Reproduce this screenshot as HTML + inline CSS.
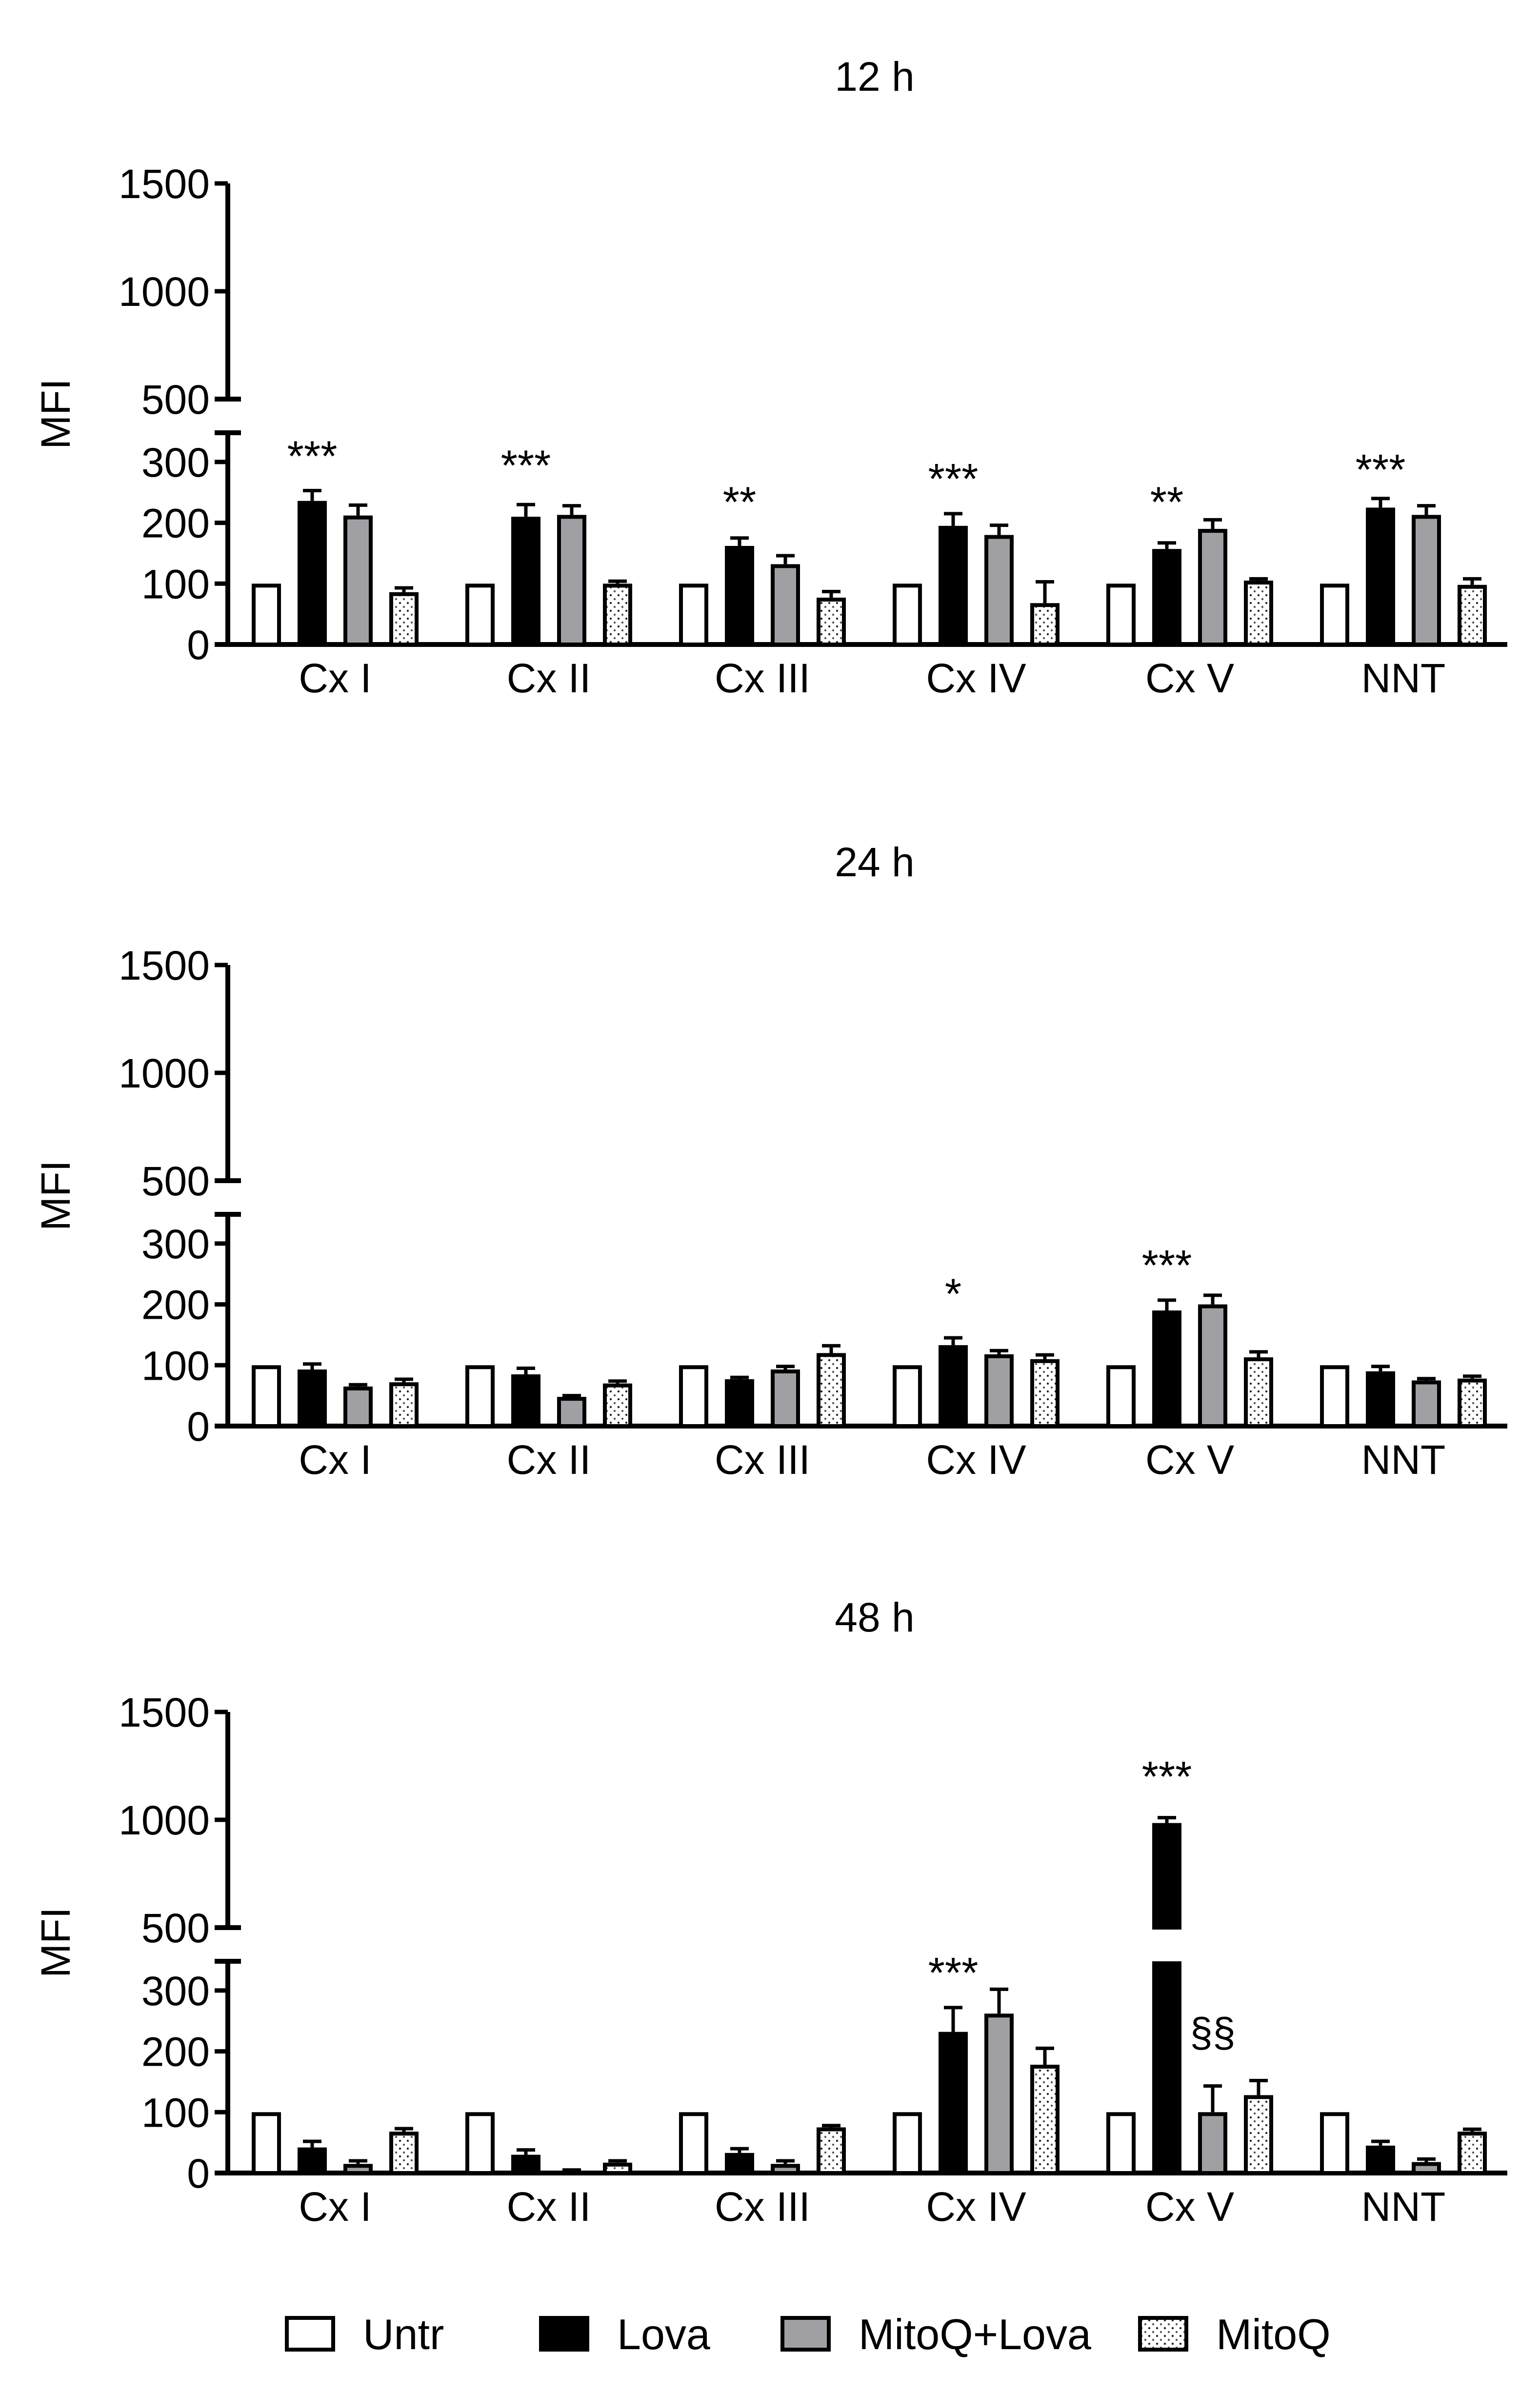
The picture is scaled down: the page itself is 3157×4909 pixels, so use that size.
<!DOCTYPE html>
<html><head><meta charset="utf-8"><style>
html,body{margin:0;padding:0;background:#fff;}
svg{display:block;font-family:"Liberation Sans",Arial,sans-serif;}
</style></head><body>
<svg id="chart" width="3157" height="4909" viewBox="0 0 3157 4909" xmlns="http://www.w3.org/2000/svg">
<defs>
<pattern id="dots" width="16" height="16" patternUnits="userSpaceOnUse">
<rect width="16" height="16" fill="#fff"/>
<circle cx="4" cy="4" r="2.2" fill="#222"/>
<circle cx="12" cy="12" r="2.2" fill="#555"/>
</pattern>
</defs>
<g id="root"></g>
</svg>
<script>
const categories = ["Cx I","Cx II","Cx III","Cx IV","Cx V","NNT"];
const seriesNames = ["Untr","Lova","MitoQ+Lova","MitoQ"];
const panelTitles = ["12 h","24 h","48 h"];
const upperTicks = [1500,1000,500];
const lowerTicks = [300,200,100,0];
// 12 h
const p12Untr = [100,100,100,100,100,100];
const p12Lova = [236,210,162,195,157,225];
const p12LovaErr = [253,230,175,215,167,240];
const p12ML = [212,213,132,180,190,213];
const p12MLErr = [229,228,146,196,205,228];
const p12MQ = [86,100,77,68,105,98];
const p12MQErr = [93,104,87,103,108,108];
const p12Sig = ["***","***","**","***","**","***"];
const p12SigY = [327,312,252,290,252,305];
// 24 h
const p24Untr = [100,100,100,100,100,100];
const p24Lova = [93,85,77,133,190,90];
const p24LovaErr = [102,95,80,145,207,98];
const p24ML = [65,48,93,118,200,75];
const p24MLErr = [68,50,98,124,215,78];
const p24MQ = [72,70,120,110,113,78];
const p24MQErr = [77,74,132,117,122,82];
const p24Sig = ["","","","*","***",""];
const p24SigY = [0,0,0,235,282,0];
// 48 h
const p48Untr = [100,100,100,100,100,100];
const p48Lova = [42,30,33,232,985,45];
const p48LovaErr = [52,38,40,272,1010,52];
const p48ML = [15,3,15,262,100,18];
const p48MLErr = [20,5,20,302,143,23];
const p48MQ = [68,17,75,178,128,68];
const p48MQErr = [73,20,78,205,152,72];
const p48Sig = ["","","","***","***",""];
const p48SigY = [0,0,0,347,1250,0];
const p48Sec = ["","","","","§§",""];
const p48SecY = [0,0,0,0,232,0];

const panels = [
 {off:0, tOff:0, vals:[p12Untr,p12Lova,p12ML,p12MQ], errs:[null,p12LovaErr,p12MLErr,p12MQErr], sig:p12Sig, sigY:p12SigY},
 {off:1602, tOff:8, vals:[p24Untr,p24Lova,p24ML,p24MQ], errs:[null,p24LovaErr,p24MLErr,p24MQErr], sig:p24Sig, sigY:p24SigY},
 {off:3133, tOff:25, vals:[p48Untr,p48Lova,p48ML,p48MQ], errs:[null,p48LovaErr,p48MLErr,p48MQErr], sig:p48Sig, sigY:p48SigY, sec:p48Sec, secY:p48SecY}
];
const fills = ["#fff","#000","#a0a0a4","url(#dots)"];
const NS = "http://www.w3.org/2000/svg";
const root = document.getElementById('root');
function mk(tag, attrs, parent, txt){
  const e = document.createElementNS(NS, tag);
  for (const k in attrs) e.setAttribute(k, attrs[k]);
  if (txt !== undefined) e.textContent = txt;
  (parent||root).appendChild(e);
  return e;
}
const AX = 467, X0 = 516, GP = 438, BP = 94, BW = 60, XEND = 3090;
const LS = 1.247, US = 0.442, BREAKV = 348;

panels.forEach((p, pi) => {
  const zero = 1321 + p.off;
  const y500 = zero - 503;
  const yL = v => zero - v * LS;
  const yU = v => y500 - (v - 500) * US;
  const yAny = v => v <= BREAKV ? yL(v) : (v >= 500 ? yU(v) : yL(BREAKV));
  const g = mk('g', {});
  
  
  const t = mk('text', {x:1793, y:yU(1500)-190+p.tOff, 'font-size':84, 'text-anchor':'middle'}, g, panelTitles[pi]);
  
  
  const yt = mk('text', {x:0, y:0, 'font-size':84, 'text-anchor':'middle', transform:`translate(143 ${(yU(1500)+zero)/2}) rotate(-90)`}, g, 'MFI');
  
  
  const ua = mk('path', {d:`M${AX} ${yU(1500)} V${yU(500)} M${440} ${yU(500)} H494`, stroke:'#000', 'stroke-width':10, fill:'none'}, g);
  
  
  upperTicks.forEach(v => {
    const tk = mk('line', {x1:440, x2:AX, y1:yU(v), y2:yU(v), stroke:'#000', 'stroke-width':9}, g);
    
    
    const tl = mk('text', {x:430, y:yU(v)+30, 'font-size':84, 'text-anchor':'end'}, g, String(v));
    
    
  });
  const la = mk('path', {d:`M${AX} ${zero+5} V${yL(BREAKV)} M440 ${yL(BREAKV)} H494 M440 ${zero} H${XEND}`, stroke:'#000', 'stroke-width':10, fill:'none'}, g);
  
  
  lowerTicks.forEach(v => {
    const tk = mk('line', {x1:440, x2:AX, y1:yL(v), y2:yL(v), stroke:'#000', 'stroke-width':9}, g);
    
    
    const tl = mk('text', {x:430, y:yL(v)+30, 'font-size':84, 'text-anchor':'end'}, g, String(v));
    
    
  });
  categories.forEach((c, ci) => {
    const gx = X0 + ci * GP;
    const cl = mk('text', {x:gx + (3*BP+BW)/2, y:zero+98, 'font-size':84, 'text-anchor':'middle'}, g, c);
    
    
    for (let si = 0; si < 4; si++) {
      const v = p.vals[si][ci];
      const x = gx + si * BP;
      const e = p.errs[si];
      if (e) {
        const eb = mk('path', {d:`M${x+BW/2} ${yAny(v)} V${yAny(e[ci])} M${x+BW/2-19} ${yAny(e[ci])} H${x+BW/2+19}`, stroke:'#000', 'stroke-width':7, fill:'none'}, g);
        
        
      }
      const segs = v > BREAKV && v >= 500 ? [[yL(BREAKV), zero], [yU(v), yU(500)]] : [[yAny(v), zero]];
      segs.forEach(s => {
        const r = mk('rect', {x:x+4, y:s[0]+4, width:BW-8, height:Math.max(0, s[1]-s[0]-4), fill:fills[si], stroke:'#000', 'stroke-width':8}, g);
        
        
      });
    }
    if (p.sig[ci]) {
      const st = mk('text', {x:gx + BP + BW/2, y:yAny(p.sigY[ci]) + 52, 'font-size':88, 'text-anchor':'middle'}, g, p.sig[ci]);
      
      
    }
    if (p.sec && p.sec[ci]) {
      const ss = mk('text', {x:gx + 2*BP + BW/2, y:yAny(p.secY[ci]) + 30, 'font-size':84, 'text-anchor':'middle'}, g, p.sec[ci]);
      
      
    }
  });
});
const legX = [584, 1105, 1600, 2333];
const lg = mk('g', {});


seriesNames.forEach((n, i) => {
  const r = mk('rect', {x:legX[i]+4, y:4751, width:95, height:65, fill:fills[i], stroke:'#000', 'stroke-width':8}, lg);
  
  
  const t = mk('text', {x:legX[i]+160, y:4815, 'font-size':88}, lg, n);
  
  
});
</script>
</body></html>
